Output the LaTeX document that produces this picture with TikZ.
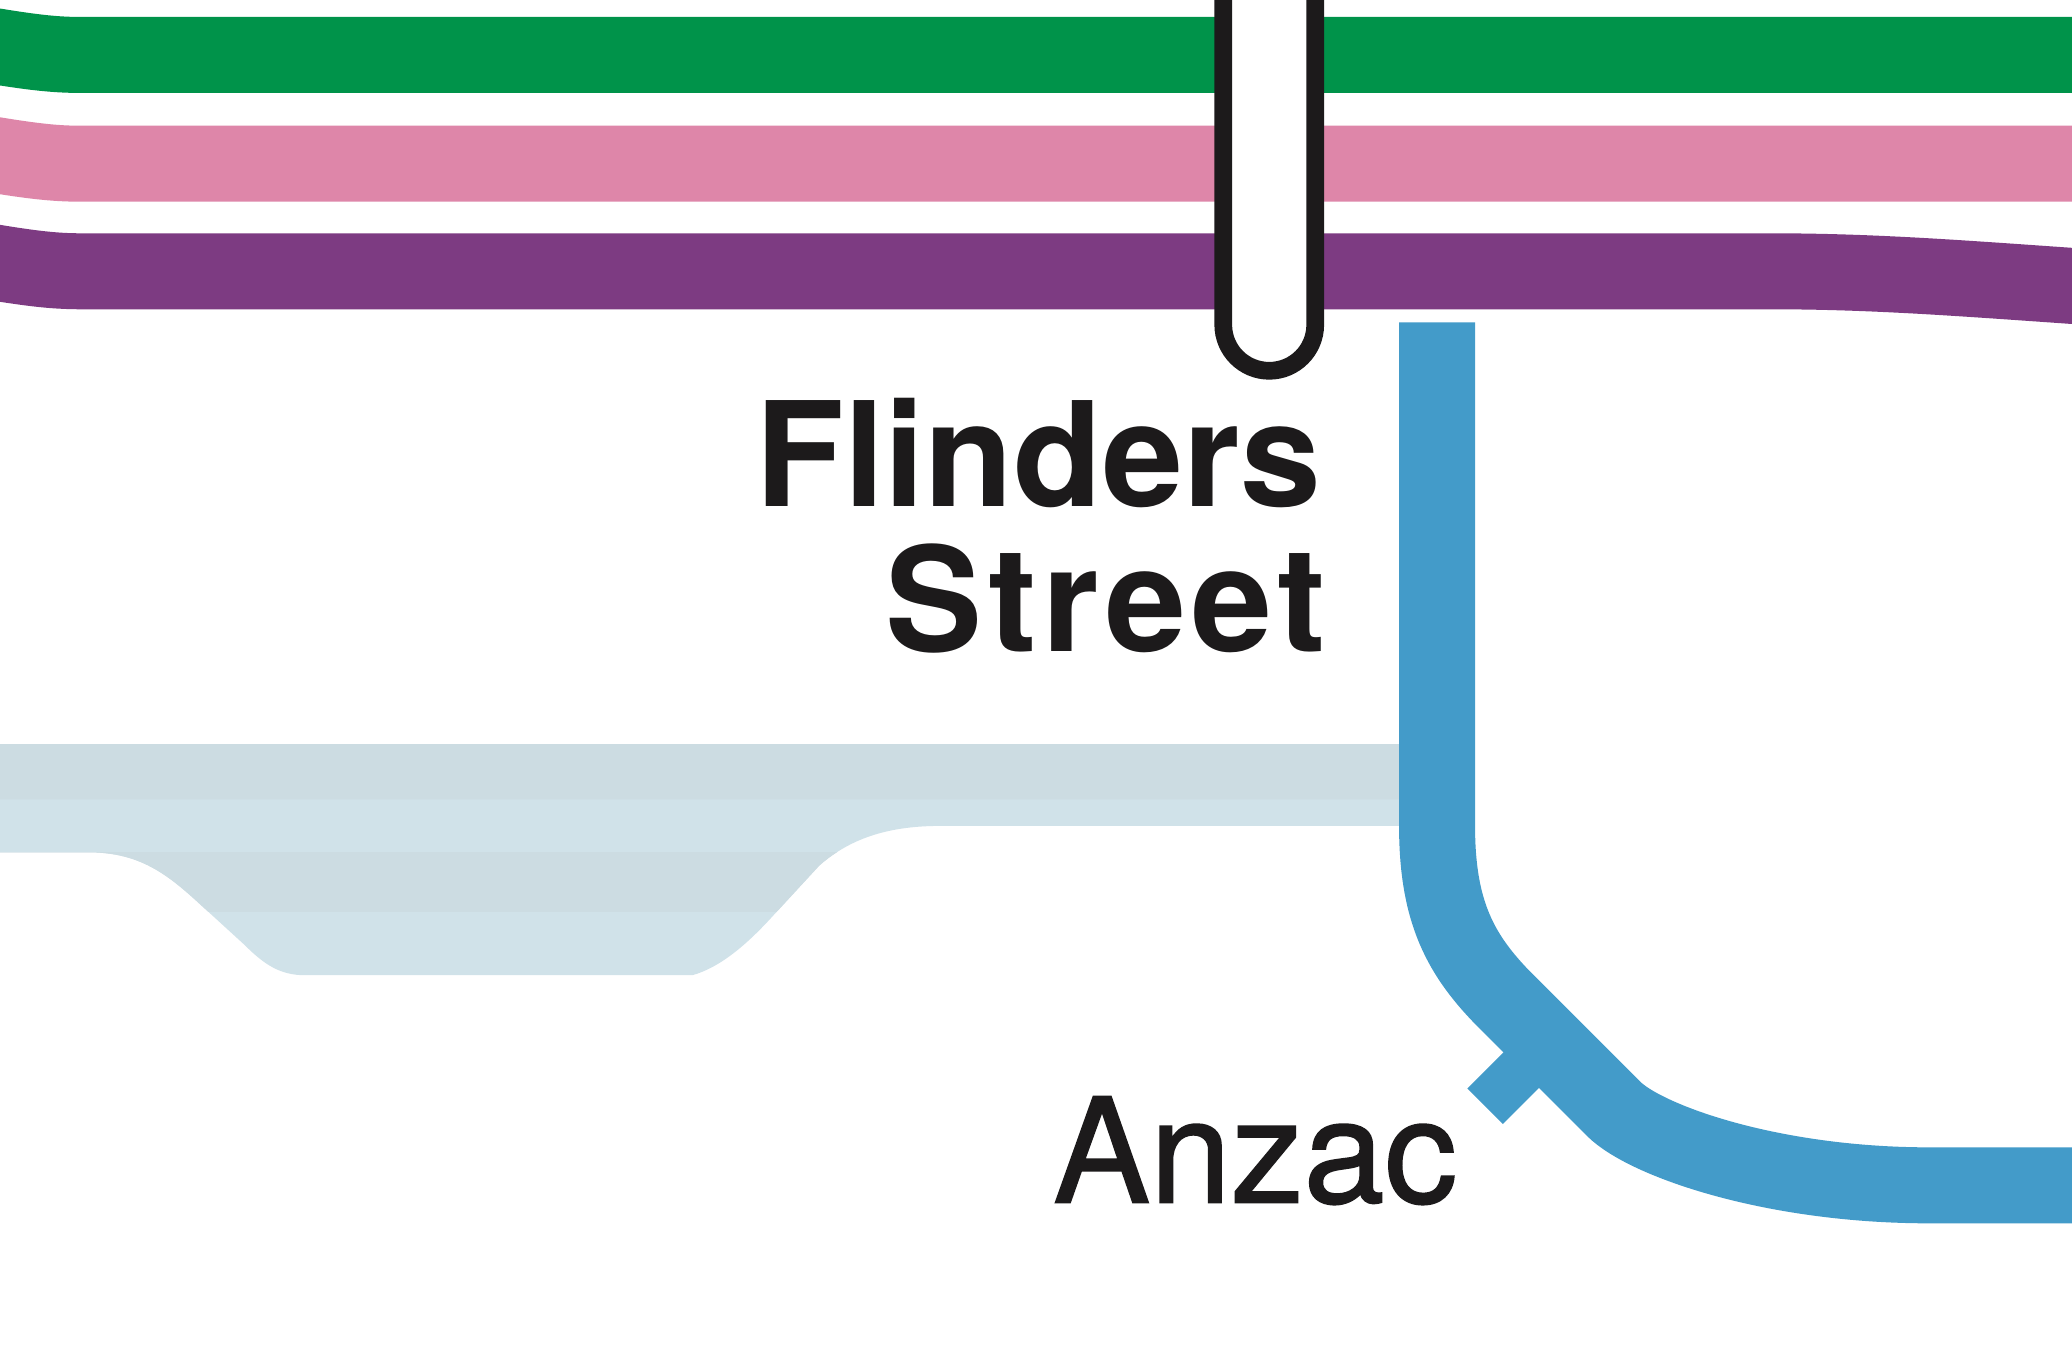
\documentclass[tikz,border=0pt]{standalone}
\usepackage{fontspec}
\setmainfont{TeX Gyre Heros}
\newfontfamily\labelfont[FakeBold=1.2]{TeX Gyre Heros}
\newfontfamily\widefont[LetterSpace=3.8]{TeX Gyre Heros}
\definecolor{lgreen}{RGB}{0,147,74}
\definecolor{lpink}{RGB}{222,134,169}
\definecolor{lpurple}{RGB}{125,59,130}
\definecolor{lblue}{RGB}{67,155,201}
\definecolor{lblack}{RGB}{28,26,27}
\definecolor{trackdark}{RGB}{204,220,226}
\definecolor{tracklight}{RGB}{208,226,233}
\tikzset{
  band/.style={line width=57.5pt, line cap=butt},
  blueline/.style={line width=57.5pt, line cap=butt, line join=miter, draw=lblue},
  stationname/.style={inner sep=0pt, outer sep=0pt, text=lblack, font=\bfseries\fontsize{110}{110}\selectfont},
  widename/.style={inner sep=0pt, outer sep=0pt, text=lblack, font=\widefont\bfseries\fontsize{110}{110}\selectfont},
  smallname/.style={inner sep=0pt, outer sep=0pt, text=lblack, font=\labelfont\fontsize{110}{110}\selectfont},
}
\begin{document}
\begin{tikzpicture}[x=1pt,y=-1pt]
\useasboundingbox (0,0) rectangle (1568,1024.66);
\fill[white] (0,0) rectangle (1568,1024.66);
\clip (0,0) rectangle (1568,1024.66);
% track shadow
\fill[trackdark] (0,563) rectangle (1075,605.5);
\path[fill=tracklight] (-5,605) -- (1075,605) -- (1075,625) -- (712,625)
  .. controls (675,625) and (645,633) .. (620,655) -- (585,693)
  .. controls (565,715) and (545,732) .. (524,738) -- (231,738)
  .. controls (212,738) and (200,730) .. (185,715) -- (150,683)
  .. controls (125,660) and (105,646) .. (70,645) -- (-5,645) -- cycle;
\begin{scope}
\clip (-5,605) -- (1075,605) -- (1075,625) -- (712,625)
  .. controls (675,625) and (645,633) .. (620,655) -- (585,693)
  .. controls (565,715) and (545,732) .. (524,738) -- (231,738)
  .. controls (212,738) and (200,730) .. (185,715) -- (150,683)
  .. controls (125,660) and (105,646) .. (70,645) -- (-5,645) -- cycle;
\fill[trackdark] (0,645) rectangle (1075,690);
\end{scope}
% coloured lines
\draw[band, draw=lgreen] (-40,28.6) .. controls (20,39.6) and (40,41.6) .. (62,41.6) -- (1580,41.6);
\draw[band, draw=lpink] (-40,110.9) .. controls (20,121.9) and (40,123.9) .. (62,123.9) -- (1580,123.9);
\draw[band, draw=lpurple] (-40,192.3) .. controls (20,203.3) and (40,205.3) .. (62,205.3) -- (1340,205.3)
  .. controls (1420,205.3) and (1490,211) .. (1580,217.2);
% loop
\draw[line width=13.4pt, draw=lblack, fill=white] (925.7,-10) -- (925.7,245.8)
  .. controls (925.7,265) and (941.3,280.6) .. (960.5,280.6)
  .. controls (979.7,280.6) and (995.3,265) .. (995.3,245.8) -- (995.3,-10);
% blue line
\coordinate (btop) at (1087.5,244);
\coordinate (bend) at (1580,897);
\draw[blueline] (btop) -- (1087.5,625) .. controls (1087.5,690) and (1105,723) .. (1140,758)
  -- (1221,839) .. controls (1245,863) and (1340,897) .. (1460,897) -- (bend);
\coordinate (tickin) at (1171.5,789.5);
\coordinate (tickout) at (1123.85,837.15);
\draw[line width=38pt, line cap=butt, draw=lblue] (tickin) -- (tickout);
% labels
\node[stationname, anchor=base east] (flinders) at (1000,383) {Flinders};
\node[widename, anchor=base east] (street) at (1003,493) {Street};
\node[smallname, anchor=base west] (anzac) at (797,910) {Anzac};
\end{tikzpicture}
\end{document}
